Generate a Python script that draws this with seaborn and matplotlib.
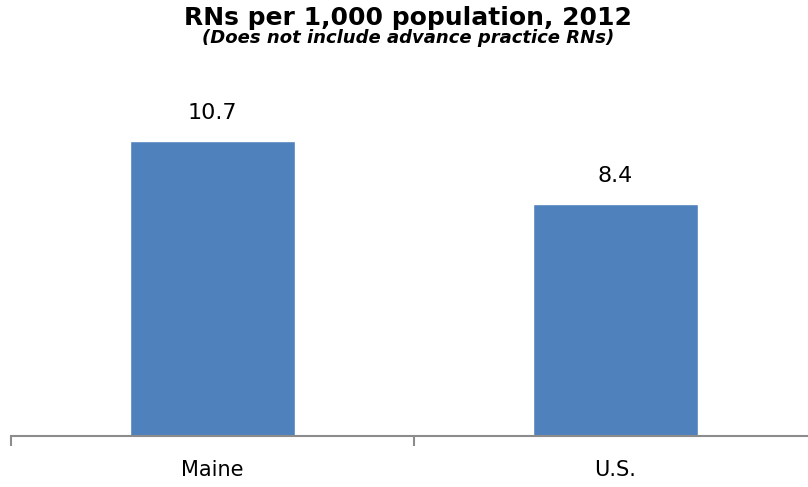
import matplotlib
matplotlib.use("Agg")
import matplotlib.pyplot as plt
import pandas as pd
import seaborn as sns

# --- Data ---
categories = ["Maine", "U.S."]
values = [10.7, 8.4]
value_labels = ["10.7", "8.4"]

df = pd.DataFrame({"area": categories, "rns": values})

sns.set_style("white")
plt.rcParams["font.family"] = ["DejaVu Sans"]

fig = plt.figure(figsize=(8.08, 4.87), dpi=100)
# axes spans from x=11px to just past the right edge, baseline at y=436px
ax = fig.add_axes([11 / 808, 51 / 487, 806 / 808, 331 / 487])

sns.barplot(data=df, x="area", y="rns", color="#4F81BD", width=0.41,
            saturation=1, ax=ax)

ax.set_xlim(-0.5, 1.5)
ax.set_ylim(0, 12)

# value labels above the bars
for bar, lab in zip(ax.patches, value_labels):
    ax.annotate(lab, (bar.get_x() + bar.get_width() / 2, bar.get_height()),
                xytext=(0, 13), textcoords="offset points",
                ha="center", va="bottom", fontsize=16, color="black")

# axis styling
for side in ["left", "top", "right"]:
    ax.spines[side].set_visible(False)
ax.spines["bottom"].set_color("#8c8c8c")
ax.spines["bottom"].set_linewidth(1.5)
ax.set_yticks([])
ax.set_xlabel("")
ax.set_ylabel("")
ax.set_xticks([0, 1])
ax.set_xticklabels(categories, fontsize=15, color="black")
ax.tick_params(axis="x", which="major", bottom=False, length=0, pad=17)
ax.set_xticks([-0.5, 0.5, 1.5], minor=True)
ax.tick_params(axis="x", which="minor", bottom=True, length=7, width=1.5,
               color="#8c8c8c", direction="out")

# title and subtitle
fig.text(0.505, 1 - 18 / 487, "RNs per 1,000 population, 2012",
         ha="center", va="center", fontsize=18, fontweight="bold",
         color="black")
fig.text(0.505, 1 - 38 / 487, "(Does not include advance practice RNs)",
         ha="center", va="center", fontsize=13, fontweight="bold",
         fontstyle="italic", color="black")

fig.savefig("out.png", dpi=100)
